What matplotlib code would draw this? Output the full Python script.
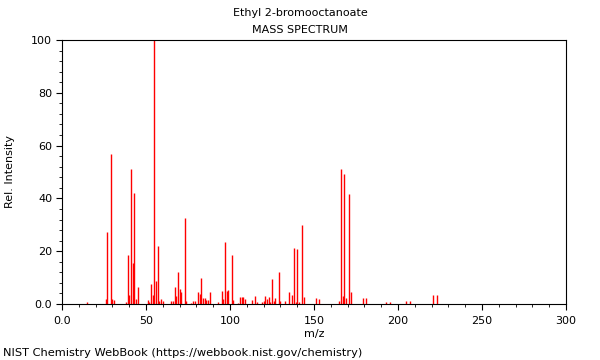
import matplotlib
matplotlib.use("Agg")
import matplotlib.pyplot as plt
from matplotlib.ticker import MultipleLocator

# m/z values and relative intensities
mz = [15, 26, 27, 29, 30, 31, 38, 39, 40, 41, 42, 43, 44, 45,
      51, 52, 53, 54, 55, 56, 57, 58, 59, 60, 65, 66, 67, 68, 69, 70, 71, 73, 74,
      77, 78, 79, 81, 82, 83, 84, 85, 86, 87, 88, 93, 95, 96, 97, 98, 99, 101, 102,
      105, 106, 107, 108, 109, 113, 115, 116, 119, 120, 121, 122, 123, 124, 125,
      126, 127, 129, 130, 133, 135, 137, 138, 139, 140, 141, 143, 144,
      151, 153, 165, 166, 167, 168, 169, 171, 172, 179, 181, 193, 195, 205, 207,
      221, 223]
intensity = [0.9, 2.0, 27.2, 57.0, 1.8, 1.5, 0.8, 18.4, 3.5, 51.1, 15.5, 42.0, 2.0, 6.4,
             1.4, 0.8, 7.6, 3.4, 100.0, 8.7, 22.0, 1.3, 2.0, 1.1, 1.0, 1.0, 6.5, 3.0, 12.3, 5.7, 4.5, 32.5, 1.3,
             0.5, 1.3, 1.3, 4.4, 3.7, 9.8, 2.1, 2.1, 1.5, 1.5, 4.4, 0.8, 4.8, 2.0, 23.5, 4.9, 5.4, 18.5, 1.4,
             0.5, 2.6, 2.6, 2.8, 2.0, 1.6, 2.9, 0.8, 0.9, 1.3, 3.0, 1.8, 2.6, 0.9, 9.6,
             1.1, 2.3, 12.2, 1.1, 1.0, 4.5, 3.4, 21.3, 0.6, 20.7, 0.8, 29.8, 2.6,
             2.1, 2.0, 1.0, 51.3, 3.1, 49.1, 2.3, 41.8, 4.5, 2.1, 2.1, 0.9, 0.6, 1.1, 1.0,
             3.3, 3.3]

x_ticks = [0, 50, 100, 150, 200, 250, 300]
x_labels = ["0.0", "50", "100", "150", "200", "250", "300"]
y_ticks = [0, 20, 40, 60, 80, 100]
y_labels = ["0.0", "20", "40", "60", "80", "100"]

fig = plt.figure(figsize=(6, 3.6), dpi=100)
ax = fig.add_axes([0.1033, 0.1556, 0.84, 0.7333])

ax.vlines(mz, 0, intensity, colors="#ff0000", linewidth=1.0)

ax.set_xlim(0, 300)
ax.set_ylim(0, 100)
ax.set_xticks(x_ticks)
ax.set_xticklabels(x_labels)
ax.set_yticks(y_ticks)
ax.set_yticklabels(y_labels)
ax.xaxis.set_minor_locator(MultipleLocator(10))
ax.yaxis.set_minor_locator(MultipleLocator(4))
ax.tick_params(which="major", length=4, width=0.8, labelsize=8, pad=3)
ax.tick_params(axis="x", which="major", pad=5)
ax.tick_params(which="minor", length=2, width=0.6)

ax.set_xlabel("m/z", fontsize=8, labelpad=2)
ax.set_ylabel("Rel. Intensity", fontsize=8, labelpad=12)

fig.text(0.5, 0.963, "Ethyl 2-bromooctanoate", ha="center", va="center", fontsize=8)
fig.text(0.5, 0.916, "MASS SPECTRUM", ha="center", va="center", fontsize=8)
fig.text(0.005, 0.02, "NIST Chemistry WebBook (https://webbook.nist.gov/chemistry)",
         ha="left", va="center", fontsize=8.2)

fig.savefig("out.png", dpi=100)
